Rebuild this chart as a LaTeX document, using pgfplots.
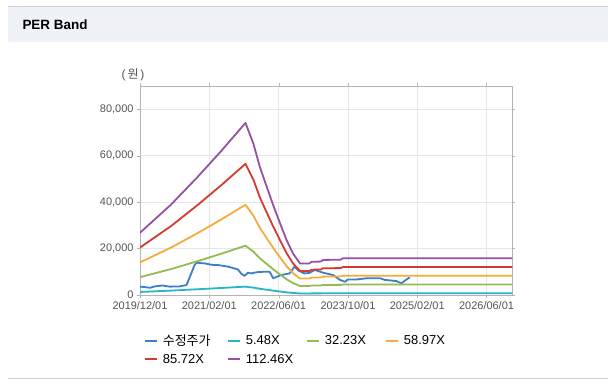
\documentclass[border=0pt]{standalone}
\usepackage{pgfplots}
\pgfplotsset{compat=1.18}
\usepackage{fontspec}
\setmainfont{Liberation Sans}
\newfontfamily\kr{Noto Sans CJK KR}
\definecolor{cBlue}{HTML}{3D7DCA}
\definecolor{cCyan}{HTML}{25B6C8}
\definecolor{cGreen}{HTML}{93BB52}
\definecolor{cOrange}{HTML}{F4AD3C}
\definecolor{cRed}{HTML}{D53A2F}
\definecolor{cPurple}{HTML}{9552A5}
\definecolor{hdr}{HTML}{EEF2F7}
\definecolor{gridc}{HTML}{E6E6E6}
\definecolor{axisc}{HTML}{B4B4B4}
\definecolor{tickc}{HTML}{555555}
\definecolor{borderc}{HTML}{D0D0D0}
\begin{document}
\begin{tikzpicture}[x=1bp,y=1bp]
\useasboundingbox (0,0) rectangle (608,385);
\fill[white] (0,0) rectangle (608,385);
\fill[hdr] (8,343) rectangle (608,378);
\draw[borderc, line width=1bp] (8,378.5) -- (608,378.5);
\draw[borderc, line width=1bp] (8,7) -- (608,7);
\node[anchor=west, font=\bfseries\fontsize{13.5}{15}\selectfont] at (19,360) {PER Band};
\node[font=\fontsize{12}{14}\selectfont, text=tickc] at (133,310) {(\,{\kr 원}\,)};
\begin{axis}[
  at={(140bp,90bp)}, anchor=south west,
  scale only axis, width=372.3bp, height=209bp,
  xmin=0, xmax=75.2, ymin=0, ymax=90000,
  xtick={0,14,28,42,56,70},
  xticklabels={2019/12/01,2021/02/01,2022/06/01,2023/10/01,2025/02/01,2026/06/01},
  ytick={0,20000,40000,60000,80000},
  scaled y ticks=false,
  yticklabel style={/pgf/number format/.cd, fixed, 1000 sep={,}},
  /pgf/number format/assume math mode=true,
  tick label style={font=\fontsize{11}{13}\selectfont, text=tickc},
  grid=major, major grid style={gridc, line width=0.8bp},
  axis line style={axisc, line width=1bp},
  tick align=outside, major tick length=3bp, tick style={axisc},
  every axis plot/.append style={line width=1.8bp, line join=round},
  legend columns=4,
  legend style={draw=none, fill=none, inner sep=0pt, font=\fontsize{13}{15}\selectfont,
    at={(0.01,-0.18)}, anchor=north west, row sep=3bp,
    /tikz/every odd column/.append style={column sep=3bp}},
  legend cell align=left,
  legend image code/.code={\draw[#1, line width=2bp] (0bp,0bp) -- (12bp,0bp);},
]
\addplot[cBlue] coordinates {(0,3600)(1,3400)(2,3100)(3,3700)(4.5,4100)(6,3600)(8,3700)(9.4,4300)(10.2,8500)(11,12800)(11.4,13900)(13.1,13600)(14.5,13000)(15.8,12900)(17.8,12200)(19.8,11000)(20.4,9300)(21.1,8200)(21.8,9600)(22.5,9300)(23.5,9800)(25,10000)(26.2,10000)(26.9,7200)(28.5,8600)(30.2,9300)(31.2,12200)(32.0,10500)(33.2,9300)(34.2,9500)(35.3,10800)(37,9600)(39,8600)(40.4,6500)(41.4,5700)(42,6700)(43.7,6700)(45.8,7200)(48.5,7200)(49.5,6500)(51.8,6000)(52.8,5000)(53.5,6200)(54.2,7200)(54.5,7600)};
\addlegendentry{\makebox[62bp][l]{\kr 수정주가}}
\addplot[cCyan] coordinates {(0,1310)(6.3,1900)(11.7,2490)(16.4,3020)(21.3,3610)(22.9,3180)(24.2,2690)(25.6,2270)(26.9,1890)(28.3,1500)(29.6,1150)(30.9,870)(32.3,660)(34.2,660)(34.7,700)(36.5,700)(37,740)(40.5,740)(41,770)(75.2,770)};
\addlegendentry{\makebox[58bp][l]{5.48X}}
\addplot[cGreen] coordinates {(0,7680)(6.3,11180)(11.7,14620)(16.4,17770)(21.3,21240)(22.9,18690)(24.2,15820)(25.6,13360)(26.9,11090)(28.3,8830)(29.6,6790)(30.9,5130)(32.3,3900)(34.2,3900)(34.7,4100)(36.5,4130)(37,4330)(40.5,4360)(41,4530)(75.2,4530)};
\addlegendentry{\makebox[58bp][l]{32.23X}}
\addplot[cOrange] coordinates {(0,14050)(6.3,20450)(11.7,26740)(16.4,32510)(21.3,38860)(22.9,34190)(24.2,28940)(25.6,24440)(26.9,20290)(28.3,16150)(29.6,12430)(30.9,9390)(32.3,7130)(34.2,7130)(34.7,7500)(36.5,7550)(37,7920)(40.5,7970)(41,8290)(75.2,8290)};
\addlegendentry{\makebox[58bp][l]{58.97X}}
\addplot[cRed] coordinates {(0,20430)(6.3,29730)(11.7,38870)(16.4,47260)(21.3,56480)(22.9,49700)(24.2,42080)(25.6,35520)(26.9,29500)(28.3,23480)(29.6,18070)(30.9,13640)(32.3,10370)(34.2,10370)(34.7,10900)(36.5,10980)(37,11510)(40.5,11590)(41,12040)(75.2,12040)};
\addlegendentry{\makebox[62bp][l]{85.72X}}
\addplot[cPurple] coordinates {(0,26800)(6.3,39000)(11.7,51000)(16.4,62000)(21.3,74100)(22.9,65200)(24.2,55200)(25.6,46600)(26.9,38700)(28.3,30800)(29.6,23700)(30.9,17900)(32.3,13600)(34.2,13600)(34.7,14300)(36.5,14400)(37,15100)(40.5,15200)(41,15800)(75.2,15800)};
\addlegendentry{\makebox[58bp][l]{112.46X}}
\end{axis}
\end{tikzpicture}
\end{document}
